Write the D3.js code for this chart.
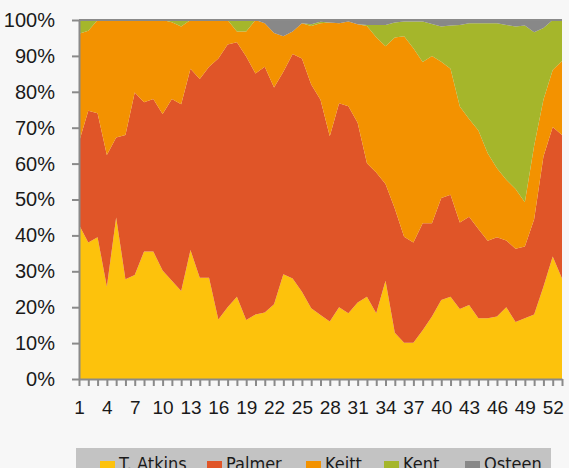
<!DOCTYPE html>
<html>
<head>
<meta charset="utf-8">
<script src="https://cdn.jsdelivr.net/npm/d3@7"></script>
<style>
  body { margin: 0; background: #f7f7f7; }
  svg { display: block; font-family: "Liberation Sans Narrow", "Arial Narrow", "DejaVu Sans Condensed", sans-serif; }
</style>
</head>
<body>
<svg id="chart"></svg>
<script>
const width = 569;
const height = 468;
const margin = { top: 20, right: 7, bottom: 89, left: 79 };

// week numbers 1..53
const weeks = d3.range(1, 54);
const xTickLabels = [1, 4, 7, 10, 13, 16, 19, 22, 25, 28, 31, 34, 37, 40, 43, 46, 49, 52];
const yTicks = [0, 10, 20, 30, 40, 50, 60, 70, 80, 90, 100];

const seriesNames = ["T. Atkins", "Palmer", "Keitt", "Kent", "Osteen"];
const colors = ["#fdc20c", "#e05528", "#f39200", "#a5b62b", "#888888"];

// share (%) per week
const atkins = [43, 38, 39.5, 25.7, 45, 27.8, 29, 35.5, 35.5, 30.2, 27.4, 24.5, 35.9, 28.2, 28.2, 16.6, 20, 22.9, 16.4, 18,
  18.5, 20.8, 29.2, 28, 24.3, 19.7, 17.8, 16, 20, 18.3, 21.3, 22.9, 18.3, 27.4, 12.9, 10.1, 10.1, 13.6, 17.4, 22,
  22.9, 19.5, 20.6, 16.9, 16.9, 17.4, 20, 15.9, 16.9, 18, 25.7, 34.1, 28];
const palmer = [23, 36.7, 34.5, 36.7, 22.3, 40.2, 50.8, 41.6, 42.5, 43.6, 50.6, 52, 50.5, 55.4, 58.8, 72.7, 73.2, 70.9, 73.4, 67.1,
  68.5, 60.4, 56.4, 62.5, 65, 62.3, 60, 51.6, 56.8, 57.7, 50.1, 37.2, 39.2, 26.9, 34.6, 29.5, 27.9, 29.8, 26, 28.4,
  28.4, 24.1, 24.6, 24.9, 21.6, 22.1, 18.6, 20.4, 20, 26.5, 36.3, 36.1, 40];
const keitt = [30.2, 22.3, 26, 37.6, 32.7, 32, 20.2, 22.9, 22, 26.2, 21.4, 21.7, 13.6, 16.4, 13, 10.7, 6.8, 3, 7, 14.9,
  12.1, 15.2, 9.9, 6.3, 9.8, 16.3, 21.3, 31.7, 22.3, 23.6, 27.4, 38.2, 37.7, 38.4, 47.6, 55.9, 54.1, 44.9, 46.6, 38,
  35.1, 32.3, 27.2, 27.4, 24.4, 19.2, 16.9, 16.6, 12.3, 20.5, 15.8, 15.9, 20.6];
const kent = [3.8, 3, 0, 0, 0, 0, 0, 0, 0, 0, 0.6, 1.8, 0, 0, 0, 0, 0, 3.2, 3.2, 0,
  0, 0, 0, 0, 0, 0.5, 0.4, 0, 0, 0, 0, 0.3, 3.4, 5.9, 4.2, 4.1, 7.5, 11.3, 8.9, 9.8,
  12.1, 22.7, 26.7, 29.9, 36.2, 40.4, 43.1, 45.3, 49.3, 31.6, 20, 13.9, 11.4];
const osteen = [0, 0, 0, 0, 0, 0, 0, 0, 0, 0, 0, 0, 0, 0, 0, 0, 0, 0, 0, 0,
  0.9, 3.6, 4.5, 3.2, 0.9, 1.2, 0.5, 0.7, 0.9, 0.4, 1.2, 1.4, 1.4, 1.4, 0.7, 0.4, 0.4, 0.4, 1.1, 1.8,
  1.5, 1.4, 0.9, 0.9, 0.9, 0.9, 1.4, 1.8, 1.5, 3.4, 2.2, 0, 0];

const seriesValues = [atkins, palmer, keitt, kent, osteen];

const rows = weeks.map((w, i) => {
    const r = { week: w };
    seriesNames.forEach((s, j) => r[s] = seriesValues[j][i]);
    return r;
});

const svg = d3.select("#chart")
    .attr("width", width)
    .attr("height", height);

const xScale = d3.scaleLinear()
    .domain([1, 53])
    .range([margin.left, width - margin.right]);

const yScale = d3.scaleLinear()
    .domain([0, 1])
    .range([height - margin.bottom, margin.top]);

const stack = d3.stack()
    .keys(seriesNames)
    .offset(d3.stackOffsetExpand);

const layers = stack(rows);

const area = d3.area()
    .x(d => xScale(d.data.week))
    .y0(d => yScale(d[0]))
    .y1(d => yScale(d[1]));

svg.append("g")
    .selectAll("path")
    .data(layers)
    .join("path")
    .attr("fill", (d, i) => colors[i])
    .attr("d", area);

const axisColor = "#8a8a8a";

// top border of plot
svg.append("line")
    .attr("x1", margin.left)
    .attr("x2", width - margin.right)
    .attr("y1", margin.top)
    .attr("y2", margin.top)
    .attr("stroke", axisColor)
    .attr("stroke-width", 2);

const xAxis = d3.axisBottom(xScale)
    .tickValues(weeks)
    .tickSize(7)
    .tickPadding(15)
    .tickSizeOuter(0)
    .tickFormat(d => xTickLabels.includes(d) ? d : "");

const yAxis = d3.axisLeft(yScale)
    .tickValues(yTicks.map(v => v / 100))
    .tickSize(7)
    .tickPadding(17)
    .tickSizeOuter(0)
    .tickFormat(d => Math.round(d * 100) + "%");

const gx = svg.append("g")
    .attr("transform", `translate(0, ${height - margin.bottom})`)
    .call(xAxis);

const gy = svg.append("g")
    .attr("transform", `translate(${margin.left}, 0)`)
    .call(yAxis);

[gx, gy].forEach(g => {
    g.select(".domain").attr("stroke", axisColor).attr("stroke-width", 2);
    g.selectAll(".tick line").attr("stroke", axisColor).attr("stroke-width", 2);
    g.selectAll("text").attr("fill", "#1a1a1a").attr("font-family", null);
});
gx.selectAll("text").style("font-size", "19px");
gy.selectAll("text").style("font-size", "20px");

// legend
const legend = svg.append("g");
legend.append("rect")
    .attr("x", 76)
    .attr("y", 448)
    .attr("width", 475)
    .attr("height", 30)
    .attr("fill", "#c3c3c3");

const legendX = [100, 207, 306, 384, 465];
seriesNames.forEach((name, i) => {
    legend.append("rect")
        .attr("x", legendX[i])
        .attr("y", 461)
        .attr("width", 15)
        .attr("height", 15)
        .attr("fill", colors[i]);
    legend.append("text")
        .attr("x", legendX[i] + 19)
        .attr("y", 470)
        .attr("fill", "#1a1a1a")
        .style("font-size", "18px")
        .text(name);
});
</script>
</body>
</html>
